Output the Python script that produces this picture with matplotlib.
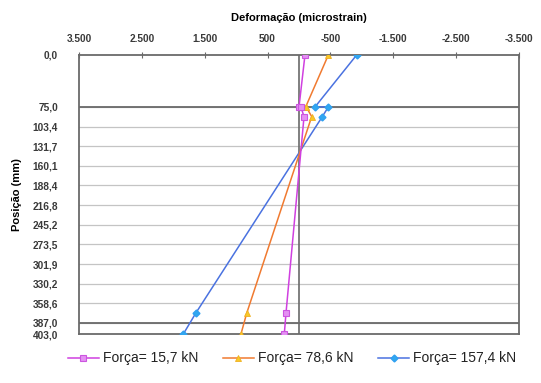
import matplotlib
matplotlib.use("Agg")
import matplotlib.pyplot as plt

plt.rcParams['font.family'] = ['Liberation Sans', 'DejaVu Sans']

# Data
positions = [0.0, 75.0, 75.0, 89.0, 373.0, 403.0]
f15_7 = [-95, 0, -30, -80, 207, 234]
f78_6 = [-467, -106, -115, -202, 832, 923]
f157_4 = [-917, -255, -467, -371, 1643, 1840]
series_labels = ["Força= 15,7 kN", "Força= 78,6 kN", "Força= 157,4 kN"]

y_ticks = [0.0, 75.0, 103.4, 131.7, 160.1, 188.4, 216.8, 245.2, 273.5,
           301.9, 330.2, 358.6, 387.0, 403.0]
y_tick_labels = ["0,0", "75,0", "103,4", "131,7", "160,1", "188,4", "216,8",
                 "245,2", "273,5", "301,9", "330,2", "358,6", "387,0", "403,0"]
x_ticks = [3500, 2500, 1500, 500, -500, -1500, -2500, -3500]
x_tick_labels = ["3.500", "2.500", "1.500", "500", "-500", "-1.500", "-2.500", "-3.500"]
flange_lines = [75.0, 387.0]

fig = plt.figure(figsize=(5.41, 3.83), dpi=100)
ax = fig.add_axes([79/541, 1-334/383, 440/541, 279/383])

ax.set_xlim(3500, -3500)
ax.set_ylim(403, 0)

# grid
for yv in y_ticks[1:-1]:
    ax.axhline(yv, color="#c4c4c4", lw=0.9, zorder=1)
for yv in flange_lines:
    ax.axhline(yv, color="#6a6a6a", lw=1.3, zorder=2)
ax.axvline(0, color="#6a6a6a", lw=1.2, zorder=2)

ax.plot(f15_7, positions, color="#d040e0", lw=1.1, marker="s", markersize=5,
        markerfacecolor="#e490f2", markeredgecolor="#cc55e0", markeredgewidth=0.8,
        label=series_labels[0], zorder=5)
ax.plot(f78_6, positions, color="#f07a30", lw=1.1, marker="^", markersize=5,
        markerfacecolor="#f8c828", markeredgecolor="#f0b020", markeredgewidth=0.6,
        label=series_labels[1], zorder=4)
ax.plot(f157_4, positions, color="#4a72e0", lw=1.1, marker="D", markersize=3.5,
        markerfacecolor="#30a8f0", markeredgecolor="#30a0f0",
        label=series_labels[2], zorder=3)

ax.xaxis.tick_top()
ax.set_xticks(x_ticks)
ax.set_xticklabels(x_tick_labels, fontsize=7.3, color="#3a3a3a")
ax.set_yticks(y_ticks)
ax.set_yticklabels(y_tick_labels, fontsize=7.3, color="#3a3a3a")
ax.tick_params(axis="x", direction="inout", length=4, width=0.8, color="#6a6a6a", pad=6)
ax.tick_params(axis="y", length=0, pad=15)
for lab in ax.get_xticklabels() + ax.get_yticklabels():
    lab.set_fontweight("bold")

for sp in ax.spines.values():
    sp.set_color("#6a6a6a")
    sp.set_linewidth(1.3)

ax.xaxis.set_label_position("top")
ax.set_xlabel("Deformação (microstrain)", fontsize=8, fontweight="bold", labelpad=9)
ax.set_ylabel("Posição (mm)", fontsize=8, fontweight="bold", labelpad=8)

fig.legend(loc="center", bbox_to_anchor=(0.54, 0.064), ncol=3, frameon=False,
           fontsize=10, handlelength=2.2, handletextpad=0.3, columnspacing=1.8,
           labelcolor="#222222")

fig.savefig("out.png", dpi=100)
